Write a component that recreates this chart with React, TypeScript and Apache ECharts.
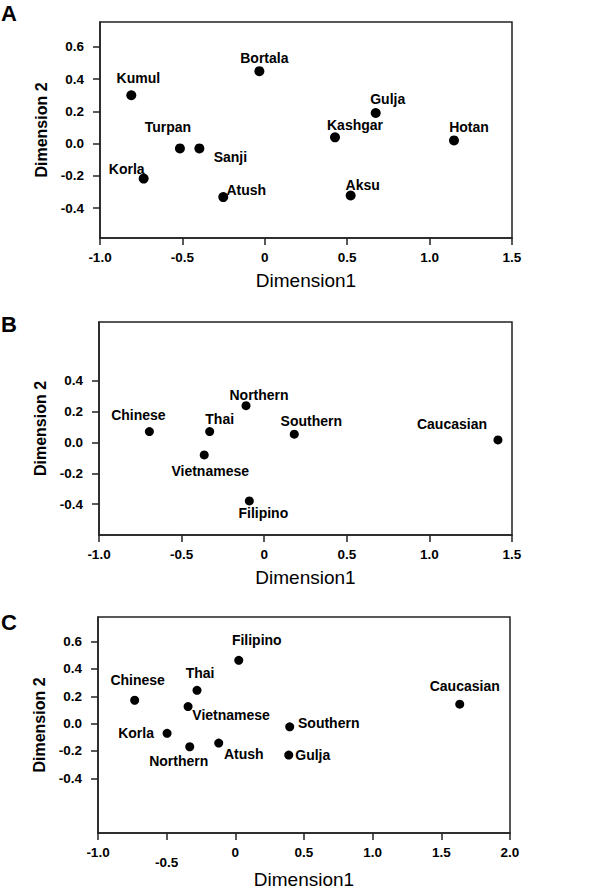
import React, { useEffect, useRef } from "react";
import * as echarts from "echarts";

// Panel A
const namesA = ["Kumul", "Bortala", "Turpan", "Sanji", "Korla", "Atush", "Kashgar", "Gulja", "Hotan", "Aksu"];
const dim1A = [-0.81, -0.033, -0.515, -0.397, -0.735, -0.252, 0.426, 0.673, 1.148, 0.521];
const dim2A = [0.3, 0.45, -0.03, -0.03, -0.217, -0.332, 0.039, 0.19, 0.02, -0.322];

// Panel B
const namesB = ["Chinese", "Thai", "Northern", "Vietnamese", "Filipino", "Southern", "Caucasian"];
const dim1B = [-0.695, -0.33, -0.11, -0.363, -0.09, 0.182, 1.415];
const dim2B = [0.07, 0.07, 0.238, -0.081, -0.379, 0.053, 0.016];

// Panel C
const namesC = ["Filipino", "Thai", "Chinese", "Vietnamese", "Korla", "Northern", "Atush", "Southern", "Gulja", "Caucasian"];
const dim1C = [0.025, -0.279, -0.733, -0.344, -0.497, -0.332, -0.121, 0.396, 0.389, 1.634];
const dim2C = [0.463, 0.244, 0.171, 0.125, -0.071, -0.169, -0.142, -0.023, -0.23, 0.142];

// Tick labels
const yTicksA = [-0.4, -0.2, 0, 0.2, 0.4, 0.6];
const yTicksB = [-0.4, -0.2, 0, 0.2, 0.4];
const yTicksC = [-0.4, -0.2, 0, 0.2, 0.4, 0.6];

// Label layout (pixel offsets of each point label from its dot)
const labelOffsetA = [[7, -17], [5, -13], [-12, -21], [31, 9], [-17, -10], [23, -7], [20, -12], [12, -14], [15, -13], [12, -10]];
const labelOffsetB = [[-11, -17], [10, -13], [13, -11], [6, 16], [14, 12], [17, -13], [-46, -16]];
const labelOffsetC = [[18, -20], [3, -17], [3, -20], [43, 8], [-31, 0], [-11, 14], [25, 11], [39, -4], [24, 0], [5, -18]];

const FONT = "'Liberation Sans', Arial, sans-serif";
const INK = "#000";
const FRAME = "#222";

function buildData(names: string[], xs: number[], ys: number[], offs: number[][]) {
  return names.map((n, i) => ({
    name: n,
    value: [xs[i], ys[i]],
    label: { offset: offs[i] },
  }));
}

function xFmt(v: number) {
  if (Math.abs(v) < 1e-9) return "0";
  return v.toFixed(1);
}

export default function App() {
  const ref = useRef<HTMLDivElement>(null);
  useEffect(() => {
    if (!ref.current) return;
    const chart = echarts.init(ref.current, undefined, { renderer: "svg" });

    const grids = [
      { left: 100, top: 22, width: 412, height: 216 },
      { left: 99, top: 322, width: 413, height: 213 },
      { left: 98, top: 617, width: 412, height: 216 },
    ].map((g) => ({ ...g, show: true, borderColor: FRAME, borderWidth: 1.5, backgroundColor: "transparent" }));

    const xRanges = [[-1, 1.5], [-1, 1.5], [-1, 2]];
    const yRanges = [[-0.586, 0.755], [-0.6, 0.78], [-0.8, 0.78]];
    const yTicks = [yTicksA, yTicksB, yTicksC];

    const tickFont = { fontFamily: FONT, fontSize: 13.5, fontWeight: "bold", color: INK };

    const xAxes = xRanges.map((r, i) => ({
      type: "value",
      gridIndex: i,
      min: r[0],
      max: r[1],
      interval: 0.5,
      name: "Dimension1",
      nameLocation: "middle",
      nameGap: 33,
      nameTextStyle: { fontFamily: FONT, fontSize: 19, color: INK },
      axisLine: { show: true, onZero: false, lineStyle: { color: FRAME, width: 1.5 } },
      axisTick: { show: true, inside: false, length: 7, lineStyle: { color: FRAME, width: 1.5 } },
      splitLine: { show: false },
      axisLabel: {
        show: true,
        margin: 12,
        ...tickFont,
        showMinLabel: true,
        showMaxLabel: true,
        formatter: (v: number) => (i === 2 && Math.abs(v + 0.5) < 1e-9 ? "{low|" + xFmt(v) + "}" : xFmt(v)),
        rich: { low: { ...tickFont, padding: [10, 0, 0, 0] } },
      },
    }));

    const yAxes = yRanges.map((r, i) => ({
      type: "value",
      gridIndex: i,
      min: r[0],
      max: r[1],
      name: "Dimension 2",
      nameLocation: "middle",
      nameGap: 50,
      nameRotate: 90,
      nameTextStyle: { fontFamily: FONT, fontSize: 16, fontWeight: "bold", color: INK },
      axisLine: { show: true, onZero: false, lineStyle: { color: FRAME, width: 1.5 } },
      axisTick: { show: true, inside: false, length: 7, customValues: yTicks[i], lineStyle: { color: FRAME, width: 1.5 } },
      splitLine: { show: false },
      axisLabel: {
        show: true,
        margin: 16,
        customValues: yTicks[i],
        ...tickFont,
        formatter: (v: number) => v.toFixed(1),
      },
    }));

    const labelStyle = {
      show: true,
      position: "inside",
      formatter: "{b}",
      fontFamily: FONT,
      fontSize: 14,
      fontWeight: "bold",
      color: INK,
      align: "center",
      verticalAlign: "middle",
    };

    const series = [
      buildData(namesA, dim1A, dim2A, labelOffsetA),
      buildData(namesB, dim1B, dim2B, labelOffsetB),
      buildData(namesC, dim1C, dim2C, labelOffsetC),
    ].map((data, i) => ({
      type: "scatter",
      xAxisIndex: i,
      yAxisIndex: i,
      symbol: "circle",
      symbolSize: i === 0 ? 10 : 9,
      itemStyle: { color: "#000", opacity: 1 },
      label: labelStyle,
      data,
    }));

    chart.setOption({
      animation: false,
      backgroundColor: "#fff",
      grid: grids,
      xAxis: xAxes,
      yAxis: yAxes,
      series,
      graphic: [
        { type: "text", left: 1, top: 2, style: { text: "A", fontFamily: FONT, fontSize: 22, fontWeight: "bold", fill: "#000" } },
        { type: "text", left: 1, top: 313, style: { text: "B", fontFamily: FONT, fontSize: 22, fontWeight: "bold", fill: "#000" } },
        { type: "text", left: 1, top: 611, style: { text: "C", fontFamily: FONT, fontSize: 22, fontWeight: "bold", fill: "#000" } },
      ],
    });
    return () => chart.dispose();
  }, []);
  return (
    <div
      ref={ref}
      style={{ position: "fixed", left: 0, top: 0, width: 600, height: 891, background: "#fff" }}
    />
  );
}
